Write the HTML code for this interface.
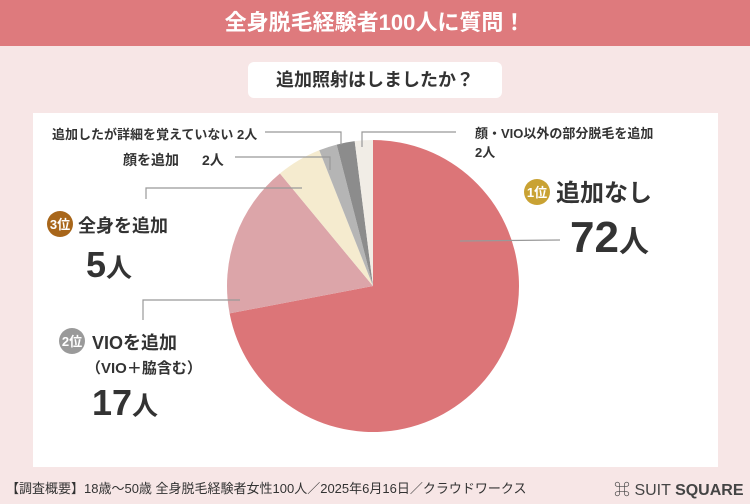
<!DOCTYPE html>
<html><head><meta charset="utf-8"><style>
body{margin:0;width:750px;height:504px;background:#f7e6e6;font-family:"Liberation Sans","Noto Sans CJK JP",sans-serif;position:relative;overflow:hidden;color:#333}
.abs{position:absolute}
</style></head><body>
<div class="abs" style="left:0;top:0;width:750px;height:46px;background:#de7a7d;color:#fff;font-weight:bold;font-size:22px;text-align:center;line-height:46px">全身脱毛経験者100人に質問！</div>
<div class="abs" style="left:248px;top:62px;width:254px;height:36px;background:#fff;border-radius:6px;font-weight:bold;font-size:18px;text-align:center;line-height:36px;color:#333">追加照射はしましたか？</div>
<div class="abs" style="left:33px;top:113px;width:685px;height:354px;background:#fff"></div>
<svg class="abs" style="left:0;top:0" width="750" height="504">
<g id="slices"></g>
<g stroke="#999" stroke-width="1.2" fill="none">
<polyline points="265,132 341,132 341,145"/>
<polyline points="362,147 362,132 456,132"/>
<polyline points="235,157 330,157 330,170"/>
<polyline points="146,199 146,188 302,188"/>
<polyline points="143,320 143,300 240,300"/>
<polyline points="460,241 560,240"/>
</g>
<text x="52" y="139" font-size="13" font-weight="bold" fill="#333">追加したが詳細を覚えていない 2人</text>
<text x="123" y="165" font-size="14" font-weight="bold" fill="#333">顔を追加</text>
<text x="202" y="165" font-size="14" font-weight="bold" fill="#333">2人</text>
<text x="475" y="138" font-size="13" font-weight="bold" fill="#333">顔・VIO以外の部分脱毛を追加</text>
<text x="475" y="157" font-size="13" font-weight="bold" fill="#333">2人</text>
<circle cx="537" cy="192" r="13" fill="#c9a233"/><text x="537" y="197" font-size="13" font-weight="bold" fill="#fff" text-anchor="middle">1位</text>
<text x="556" y="201" font-size="24" font-weight="bold" fill="#333">追加なし</text>
<text x="570" y="252" font-size="44" font-weight="bold" fill="#333">72<tspan font-size="30">人</tspan></text>
<circle cx="60" cy="224" r="13" fill="#a8661a"/><text x="60" y="229" font-size="13" font-weight="bold" fill="#fff" text-anchor="middle">3位</text>
<text x="78" y="232" font-size="18" font-weight="bold" fill="#333">全身を追加</text>
<text x="86" y="277" font-size="36" font-weight="bold" fill="#333">5<tspan font-size="26">人</tspan></text>
<circle cx="72" cy="341" r="13" fill="#9a9a9a"/><text x="72" y="346" font-size="13" font-weight="bold" fill="#fff" text-anchor="middle">2位</text>
<text x="92" y="349" font-size="18" font-weight="bold" fill="#333">VIOを追加</text>
<text x="86" y="373" font-size="15" font-weight="bold" fill="#333">（VIO＋脇含む）</text>
<text x="92" y="415" font-size="36" font-weight="bold" fill="#333">17<tspan font-size="26">人</tspan></text>
</svg>
<div class="abs" style="left:6px;top:478px;font-size:13px;color:#333">【調査概要】18歳〜50歳 全身脱毛経験者女性100人／2025年6月16日／クラウドワークス</div>
<div class="abs" style="left:614px;top:476px;font-size:16px;color:#444">⌘ SUIT <b>SQUARE</b></div>
<script>
const categories=["追加なし","VIOを追加","全身を追加","顔を追加","追加したが詳細を覚えていない","顔・VIO以外の部分脱毛を追加"];
const values=[72,17,5,2,2,2];
const colors=["#dc7578","#dca5a9","#f5ebcf","#b5b5b5","#8c8c8c","#f1ede6"];
const cx=373,cy=286,r=146;
const g=document.getElementById('slices');
const total=values.reduce((a,b)=>a+b,0);
let a0=0;
values.forEach((v,i)=>{
 const a1=a0+v/total*2*Math.PI;
 const p=(a)=>[cx+r*Math.sin(a),cy-r*Math.cos(a)];
 const [x0,y0]=p(a0),[x1,y1]=p(a1);
 const path=document.createElementNS('http://www.w3.org/2000/svg','path');
 path.setAttribute('d',`M${cx},${cy}L${x0},${y0}A${r},${r} 0 ${a1-a0>Math.PI?1:0} 1 ${x1},${y1}Z`);
 path.setAttribute('fill',colors[i]);
 
 
 g.appendChild(path);
 a0=a1;
});
</script>
</body></html>
